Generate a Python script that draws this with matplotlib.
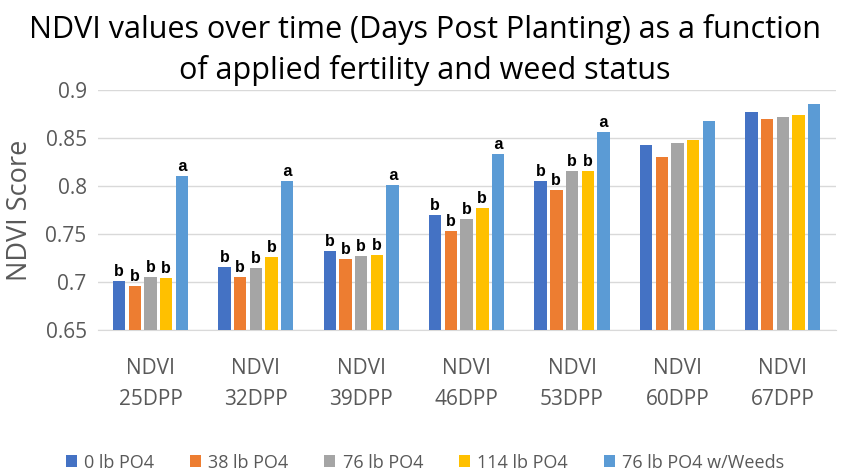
import numpy as np
import matplotlib
matplotlib.use("Agg")
import matplotlib.pyplot as plt

categories = ["NDVI\n25DPP", "NDVI\n32DPP", "NDVI\n39DPP", "NDVI\n46DPP",
              "NDVI\n53DPP", "NDVI\n60DPP", "NDVI\n67DPP"]
series_names = ["0 lb PO4", "38 lb PO4", "76 lb PO4", "114 lb PO4", "76 lb PO4 w/Weeds"]

po4_0 = [0.701, 0.716, 0.732, 0.770, 0.805, 0.843, 0.877]
po4_38 = [0.696, 0.705, 0.724, 0.753, 0.796, 0.830, 0.870]
po4_76 = [0.705, 0.715, 0.727, 0.766, 0.816, 0.845, 0.872]
po4_114 = [0.704, 0.726, 0.728, 0.777, 0.816, 0.848, 0.874]
po4_76_weeds = [0.810, 0.805, 0.801, 0.833, 0.856, 0.868, 0.885]

# significance letters (none for the last two dates)
letters_main = ["b", "b", "b", "b", "b", "", ""]
letters_weeds = ["a", "a", "a", "a", "a", "", ""]

series = [po4_0, po4_38, po4_76, po4_114, po4_76_weeds]
colors = ["#4472C4", "#ED7D31", "#A5A5A5", "#FFC000", "#5B9BD5"]

fig = plt.figure(figsize=(8.5, 4.73), dpi=100)
ax = fig.add_axes([0.115, 0.302, 0.868, 0.508])

x = np.arange(len(categories))
pitch = 0.149
width = 0.117
for i, (vals, col, name) in enumerate(zip(series, colors, series_names)):
    pos = x + (i - 2) * pitch
    ax.bar(pos, vals, width, color=col, label=name, zorder=3)
    labs = letters_weeds if i == 4 else letters_main
    for px, v, lab in zip(pos, vals, labs):
        if lab:
            ax.text(px, v + 0.002, lab, ha="center", va="bottom",
                    family=["Liberation Mono", "DejaVu Sans Mono"], fontweight="bold",
                    fontsize=12, zorder=4)

ax.set_ylim(0.65, 0.9)
ax.set_xlim(-0.5, len(categories) - 0.5)
ax.set_yticks([0.65, 0.7, 0.75, 0.8, 0.85, 0.9])
ax.set_yticklabels(["0.65", "0.7", "0.75", "0.8", "0.85", "0.9"])
ax.set_xticks(x)
ax.set_xticklabels(categories, linespacing=1.65)
ax.grid(axis="y", color="#D9D9D9", linewidth=1, zorder=0)
for s in ["top", "right", "left"]:
    ax.spines[s].set_visible(False)
ax.spines["bottom"].set_color("#D9D9D9")
ax.tick_params(axis="both", length=0, labelsize=15, labelcolor="#595959", pad=8)
ax.tick_params(axis="x", pad=20)
for t in ax.get_xticklabels() + ax.get_yticklabels():
    t.set_family("Open Sans")

ax.set_ylabel("NDVI Score", fontsize=19.5, color="#595959", family="Open Sans", labelpad=8)

fig.text(0.5, 0.937, "NDVI values over time (Days Post Planting) as a function",
         ha="center", va="center", fontsize=22, family="Open Sans")
fig.text(0.5, 0.850, "of applied fertility and weed status",
         ha="center", va="center", fontsize=22, family="Open Sans")

fig.legend(*ax.get_legend_handles_labels(), loc="center", bbox_to_anchor=(0.5, 0.022), ncol=5,
           frameon=False, handlelength=0.6, handleheight=0.6, columnspacing=2.0,
           handletextpad=0.4, labelcolor="#595959", prop={"family": "Open Sans", "size": 13})

fig.savefig("out.png", dpi=100)
